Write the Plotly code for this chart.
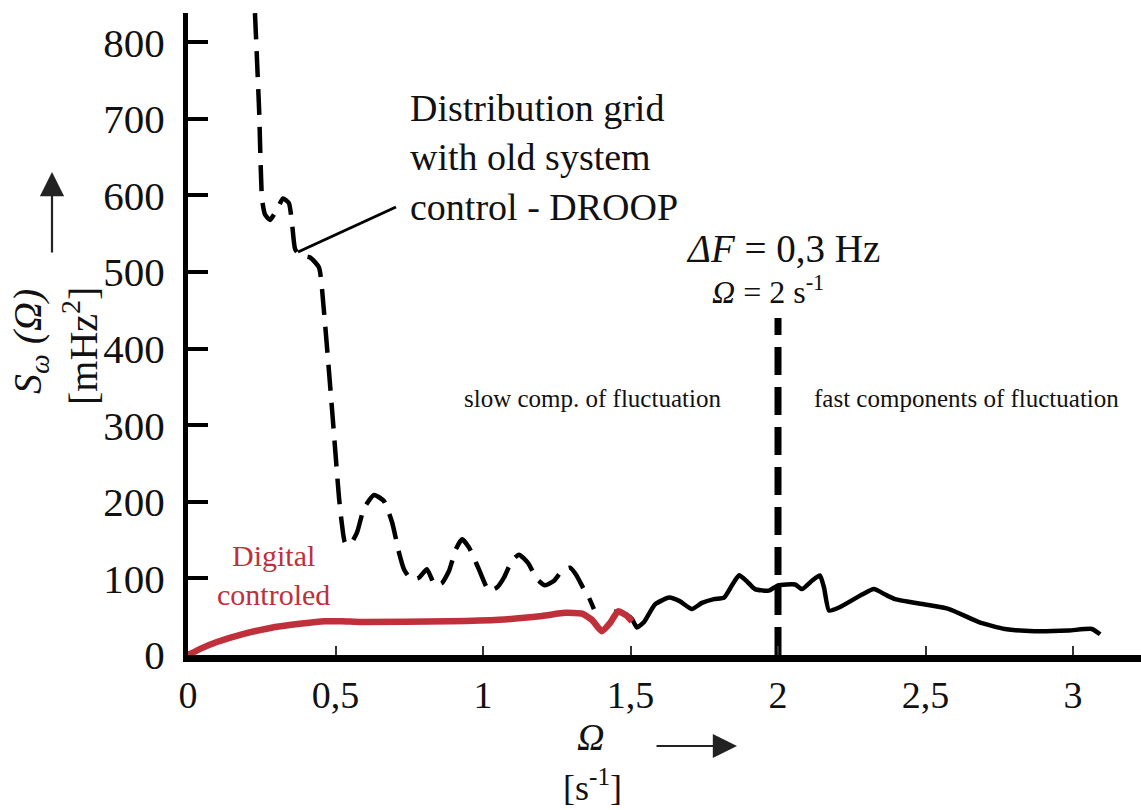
import plotly.graph_objects as go

# ---------------- data ----------------
droop_x = [0.227, 0.241, 0.251, 0.261, 0.278, 0.302, 0.322, 0.342, 0.353, 0.363, 0.380, 0.414,
           0.444, 0.461, 0.488, 0.512, 0.522, 0.532, 0.549, 0.573, 0.597, 0.631, 0.664, 0.692,
           0.715, 0.732, 0.756, 0.783, 0.810, 0.837, 0.861, 0.885, 0.908, 0.929, 0.953, 0.986,
           1.020, 1.047, 1.071, 1.098, 1.122, 1.153, 1.183, 1.210, 1.241, 1.268, 1.295, 1.315,
           1.339, 1.359, 1.376]
droop_y = [838, 712, 595, 575, 568, 582, 596, 590, 562, 530, 522, 519,
           506, 448, 322, 205, 170, 147, 144, 160, 192, 209, 201, 173,
           134, 112, 99, 101, 112, 91, 94, 110, 138, 151, 140, 112,
           84, 88, 101, 123, 131, 120, 99, 91, 97, 110, 114, 105,
           88, 75, 60]

fast_x = [1.444, 1.485, 1.505, 1.522, 1.546, 1.583, 1.631, 1.668, 1.708, 1.742, 1.783, 1.817,
          1.844, 1.868, 1.895, 1.922, 1.969, 2.000, 2.058, 2.081, 2.115, 2.142, 2.156, 2.173,
          2.207, 2.285, 2.325, 2.363, 2.397, 2.498, 2.580, 2.681, 2.769, 2.871, 2.986, 3.064,
          3.092]
fast_y = [57, 53, 47, 36, 43, 66, 75, 70, 60, 68, 73, 75,
          91, 104, 96, 86, 84, 91, 92, 86, 97, 104, 88, 58,
          62, 79, 86, 79, 73, 66, 60, 43, 34, 31, 32, 34,
          27]

digital_x = [0.0, 0.047, 0.098, 0.183, 0.275, 0.386, 0.464, 0.522, 0.590, 0.885, 1.054, 1.200,
             1.278, 1.336, 1.369, 1.403, 1.431, 1.458, 1.485, 1.505]
digital_y = [0, 9, 17, 27, 35, 41, 44, 44, 43, 44, 46, 51,
             55, 54, 46, 31, 42, 57, 52, 44]

boundary_x = [2, 2]
boundary_y = [0, 440]

y_ticks = [0, 100, 200, 300, 400, 500, 600, 700, 800]
x_ticks = [0, 0.5, 1, 1.5, 2, 2.5, 3]
x_tick_text = ["0", "0,5", "1", "1,5", "2", "2,5", "3"]

# ---------------- layout geometry ----------------
FW, FH = 1141, 810
L, R, T, B = 188, 0, 13, 155
W, H = FW - L - R, FH - T - B
SERIF = "Liberation Serif"
RED = "#c0303a"


def px(x):
    return (x - L) / W


def py(y):
    return (T + H - y) / H


fig = go.Figure()

fig.add_trace(go.Scatter(x=boundary_x, y=boundary_y, mode="lines",
                         line=dict(color="black", width=7, dash="28px,12px"),
                         hoverinfo="skip", showlegend=False))
fig.add_trace(go.Scatter(x=fast_x, y=fast_y, mode="lines",
                         line=dict(color="black", width=4.5, shape="spline", smoothing=0.5),
                         showlegend=False))
fig.add_trace(go.Scatter(x=droop_x, y=droop_y, mode="lines",
                         line=dict(color="black", width=4.5, dash="26px,12px",
                                   shape="spline", smoothing=0.5),
                         showlegend=False))
fig.add_trace(go.Scatter(x=digital_x, y=digital_y, mode="lines",
                         line=dict(color=RED, width=6.5, shape="spline", smoothing=0.5),
                         showlegend=False))

ann = []
# DROOP label
ann.append(dict(xref="paper", yref="paper", x=px(408), y=py(157), xanchor="left", yanchor="middle",
                text="Distribution grid<br>with old system<br>control - DROOP", align="left",
                showarrow=False, font=dict(family=SERIF, size=38, color="#111")))
ann.append(dict(xref="paper", yref="paper", x=px(684), y=py(248), xanchor="left", yanchor="middle",
                text="<i>ΔF</i> = 0,3 Hz", showarrow=False,
                font=dict(family=SERIF, size=39, color="#111")))
ann.append(dict(xref="paper", yref="paper", x=px(768), y=py(290), xanchor="center", yanchor="middle",
                text="<i>Ω</i> = 2 s<sup>-1</sup>", showarrow=False,
                font=dict(family=SERIF, size=32, color="#111")))
ann.append(dict(xref="paper", yref="paper", x=px(462), y=py(398), xanchor="left", yanchor="middle",
                text="slow comp. of fluctuation", showarrow=False,
                font=dict(family=SERIF, size=25, color="#111")))
ann.append(dict(xref="paper", yref="paper", x=px(812), y=py(398), xanchor="left", yanchor="middle",
                text="fast components of fluctuation", showarrow=False,
                font=dict(family=SERIF, size=25, color="#111")))
ann.append(dict(xref="paper", yref="paper", x=px(273), y=py(575), xanchor="center", yanchor="middle",
                text="Digital<br>controled", showarrow=False, align="center",
                font=dict(family=SERIF, size=30, color=RED)))
# axis titles
ann.append(dict(xref="paper", yref="paper", x=px(30), y=py(342), xanchor="center", yanchor="middle",
                text="<i>S<sub>ω</sub> (Ω)</i>", textangle=-90, showarrow=False,
                font=dict(family=SERIF, size=40, color="#111")))
ann.append(dict(xref="paper", yref="paper", x=px(80), y=py(346), xanchor="center", yanchor="middle",
                text="[mHz<sup>2</sup>]", textangle=-90, showarrow=False,
                font=dict(family=SERIF, size=40, color="#111")))
ann.append(dict(xref="paper", yref="paper", x=px(590), y=py(737), xanchor="center", yanchor="middle",
                text="<i>Ω</i>", showarrow=False,
                font=dict(family=SERIF, size=38, color="#111")))
ann.append(dict(xref="paper", yref="paper", x=px(592), y=py(785), xanchor="center", yanchor="middle",
                text="[s<sup>-1</sup>]", showarrow=False,
                font=dict(family=SERIF, size=36, color="#111")))
# arrows next to axis titles
ann.append(dict(xref="paper", yref="paper", x=px(52), y=py(172), ax=0, ay=82, text="",
                showarrow=True, arrowhead=2, arrowsize=2.2, arrowwidth=2.2, arrowcolor="#222"))
ann.append(dict(xref="paper", yref="paper", x=px(737), y=py(746), ax=-82, ay=0, text="",
                showarrow=True, arrowhead=2, arrowsize=2.2, arrowwidth=2.2, arrowcolor="#222"))

shapes = [dict(type="line", xref="paper", yref="paper", x0=px(396), y0=py(207),
               x1=px(298), y1=py(252), line=dict(color="black", width=3))]

fig.update_layout(
    width=FW, height=FH,
    margin=dict(l=L, r=R, t=T, b=B, pad=0),
    paper_bgcolor="white", plot_bgcolor="white",
    showlegend=False,
    font=dict(family=SERIF),
    annotations=ann, shapes=shapes,
    xaxis=dict(range=[0, W / 295.0], showgrid=False, zeroline=False,
               showline=True, linecolor="black", linewidth=7,
               ticks="inside", ticklen=9, tickwidth=1.5, tickcolor="#333",
               tickvals=x_ticks, ticktext=x_tick_text,
               tickfont=dict(family=SERIF, size=38, color="#111")),
    yaxis=dict(range=[0, H / 0.766], showgrid=False, zeroline=False,
               showline=True, linecolor="black", linewidth=5,
               ticks="inside", ticklen=20, tickwidth=4, tickcolor="black",
               tickvals=y_ticks, ticklabelstandoff=10,
               tickfont=dict(family=SERIF, size=41, color="#111")),
)

fig.write_html("out.html")
